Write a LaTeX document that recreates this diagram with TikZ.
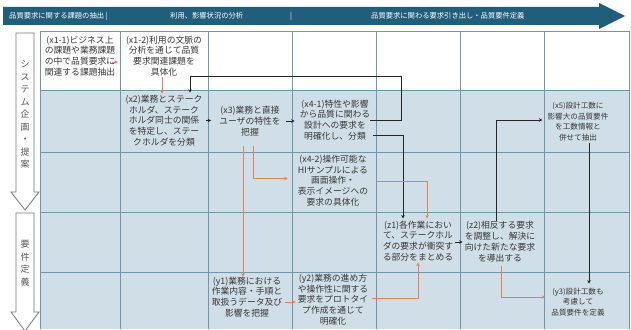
\documentclass[tikz,border=0pt]{standalone}
\usepackage{fontspec}
\setmainfont{Noto Sans CJK JP}
\usetikzlibrary{calc,arrows.meta}
\definecolor{bannerc}{RGB}{33,94,124}
\definecolor{cellblue}{RGB}{208,222,231}
\definecolor{gridc}{RGB}{112,150,172}
\definecolor{orangec}{RGB}{232,128,84}
\definecolor{txt}{RGB}{55,55,55}
\definecolor{arrc}{RGB}{120,120,120}
\begin{document}
\begin{tikzpicture}[x=1pt,y=-1pt,
  box/.style={inner sep=0pt, align=center, text=txt, font=\fontsize{8.8}{10.8}\selectfont},
  sbox/.style={box, font=\fontsize{7.6}{10.6}\selectfont},
  btext/.style={inner sep=0pt, anchor=west, text=white, font=\fontsize{7.3}{8}\selectfont},
  vtext/.style={inner sep=0pt, align=center, text=txt!85, font=\fontsize{9}{12.5}\selectfont},
  gridline/.style={draw=gridc, line width=0.8pt},
  blk/.style={draw=black!85, line width=0.9pt, -{Stealth[length=3.5pt,width=3.5pt]}},
  org/.style={draw=orangec, line width=1pt, -{Stealth[length=3.5pt,width=3.5pt]}},
  sidearrow/.style={draw=arrc, fill=white, line width=0.8pt}]
\useasboundingbox (0,0) rectangle (631,329);
\clip (0,0) rectangle (631,329);
% banner
\fill[bannerc] (3,7) -- (599,7) -- (599,3) -- (625,16) -- (599,29) -- (599,25) -- (3,25) -- cycle;
\node[btext] (bt1) at (9,16) {品質要求に関する課題の抽出 |};
\node[btext] (bt2) at (170,16) {利用、影響状況の分析};
\node[btext] (bt3) at (290,16) {|};
\node[btext] (bt4) at (371,16) {品質要求に関わる要求引き出し・品質要件定義};
% grid
\fill[white] (40,31) rectangle (629,90);
\fill[cellblue] (40,90) rectangle (629,329);
\foreach \gx in {40,120,208,292,376,460,544,629} \draw[gridline] (\gx,31) -- (\gx,329);
\foreach \gy in {31,90,152,212,272} \draw[gridline] (40,\gy) -- (629,\gy);
% side arrows
\draw[sidearrow] (16,33) -- (34,33) -- (34,192) -- (39,192) -- (25,210) -- (11,192) -- (16,192) -- cycle;
\draw[sidearrow] (16,213) -- (34,213) -- (34,312) -- (39,312) -- (25,331) -- (11,312) -- (16,312) -- cycle;
\node[vtext] (sv1) at (25,114.5) {シ\\ス\\テ\\ム\\企\\画\\・\\提\\案};
\node[vtext] (sv2) at (25,263.5) {要\\件\\定\\義};
% nodes
\node[box] (x11) at (80,56) {(x1-1)ビジネス上\\の課題や業務課題\\の中で品質要求に\\関連する課題抽出};
\node[box] (x12) at (164,56) {(x1-2)利用の文脈の\\分析を通じて品質\\要求関連課題を\\具体化};
\node[box] (x2) at (164,120.5) {(x2)業務とステーク\\ホルダ、ステーク\\ホルダ同士の関係\\を特定し、ステー\\クホルダを分類};
\node[box] (x3) at (250,121) {(x3)業務と直接\\ユーザの特性を\\把握};
\node[box] (x41) at (335,120) {(x4-1)特性や影響\\から品質に関わる\\設計への要求を\\明確化し、分類};
\node[box] (x42) at (333,180.5) {(x4-2)操作可能な\\HIサンプルによる\\画面操作・\\表示イメージへの\\要求の具体化};
\node[sbox] (x5) at (578,121.5) {(x5)設計工数に\\影響大の品質要件\\を工数情報と\\併せて抽出};
\node[box] (z1) at (418,241) {(z1)各作業におい\\て、ステークホル\\ダの要求が衝突す\\る部分をまとめる};
\node[box] (z2) at (500,241.5) {(z2)相反する要求\\を調整し、解決に\\向けた新たな要求\\を導出する};
\node[box] (y1) at (247,297) {(y1)業務における\\作業内容・手順と\\取扱うデータ及び\\影響を把握};
\node[box] (y2) at (333,299.5) {(y2)業務の進め方\\や操作性に関する\\要求をプロトタイ\\プ作成を通じて\\明確化};
\node[sbox] (y3) at (578,302) {(y3)設計工数も\\考慮して\\品質要件を定義};
\coordinate (b1) at (401,76);
% connectors
\draw[org] ($(x11.east)+(-3,6)$) -- ($(x12.west)+(-8,6)$);
\draw[org] ($(x12.south)+(-2,1)$) -- ($(x2.north)+(-2,-1)$);
\draw[blk] (x41.east) -| (b1) -| ($(x2.north)+(26,-2)$);
\draw[blk] ($(x2.east)+(3,0)$) -- ($(x3.west)+(-8,-0.5)$);
\draw[blk] ($(x3.east)+(5,0)$) -- ($(x41.west)+(-5,1)$);
\draw[blk] ($(x41.south east)+(3,-5)$) -| ($(z1.north)+(-15,-2)$);
\draw[org] ($(x3.south)+(3,10)$) |- ($(x42.west)+(-10,-2)$);
\draw[org] ($(x3.south)+(-7,10)$) coordinate (o1) -- (o1 |- y1.north);
\draw[org] ($(x42.east)+(8,1)$) -| ($(z1.north)+(9,-2)$);
\draw[blk] ($(z1.east)+(2,1)$) -- ($(z2.west)+(-2,0.5)$);
\draw[blk] ($(z2.north)+(-4,0)$) |- ($(x5.west)+(-5,-1.5)$);
\draw[blk] ($(x5.south)+(11,2)$) -- ($(y3.north)+(11,-4)$);
\draw[org] ($(z2.south)+(1,4)$) |- ($(y3.west)+(-6,-5)$);
\draw[org] ($(y1.east)+(3,5)$) coordinate (o2) -- ($(o2 -| y2.west)+(-2,0)$);
\draw[org] ($(y2.east)+(4,-1.5)$) -| ($(z1.south)+(0,1)$);
\end{tikzpicture}
\end{document}
